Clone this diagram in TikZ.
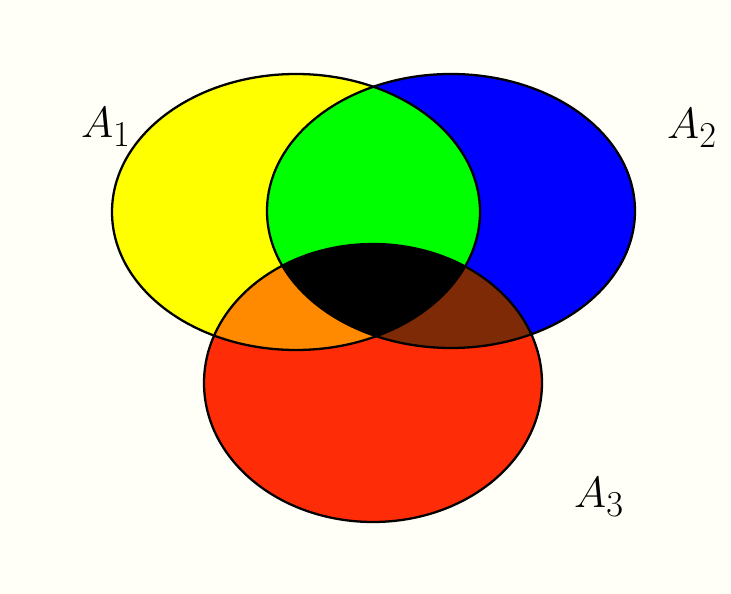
\documentclass[tikz,border=0pt]{standalone}
\usepackage{xcolor}
\usepackage{tikz}
\definecolor{paper}{HTML}{FFFFF8}
\definecolor{setyellow}{HTML}{FFFF00}
\definecolor{setblue}{HTML}{0000FF}
\definecolor{setred}{HTML}{FF2C08}
\definecolor{setgreen}{HTML}{00FF00}
\definecolor{setorange}{HTML}{FF8A00}
\definecolor{setbrown}{HTML}{7E2A06}
\tikzset{
    outline/.style={draw=black, line width=1.3pt},
    setlabel/.style={font=\fontsize{29}{34}\selectfont, inner sep=0pt}
}
% the three sets, in pixel units
\newcommand{\setAone}{(296,212) ellipse [x radius=184, y radius=138]}
\newcommand{\setAtwo}{(451,211) ellipse [x radius=184, y radius=137]}
\newcommand{\setAthree}{(373,383) ellipse [x radius=169, y radius=139]}

\begin{document}
\begin{tikzpicture}[x=0.02cm, y=-0.02cm]
    \fill[paper] (0,0) rectangle (731,594);
    \useasboundingbox (0,0) rectangle (731,594);

    \fill[setyellow] \setAone;
    \fill[setblue] \setAtwo;
    \fill[setred] \setAthree;
    \begin{scope}
        \clip \setAone;
        \fill[setgreen] \setAtwo;
        \fill[setorange] \setAthree;
    \end{scope}
    \begin{scope}
        \clip \setAtwo;
        \fill[setbrown] \setAthree;
        \clip \setAone;
        \fill[black] \setAthree;
    \end{scope}

    \draw[outline] \setAone;
    \draw[outline] \setAtwo;
    \draw[outline] \setAthree;

    \node[setlabel] (labelone) at (106,127) {$A_1$};
    \node[setlabel] (labeltwo) at (692,128) {$A_2$};
    \node[setlabel] (labelthree) at (599,497) {$A_3$};
\end{tikzpicture}
\end{document}
